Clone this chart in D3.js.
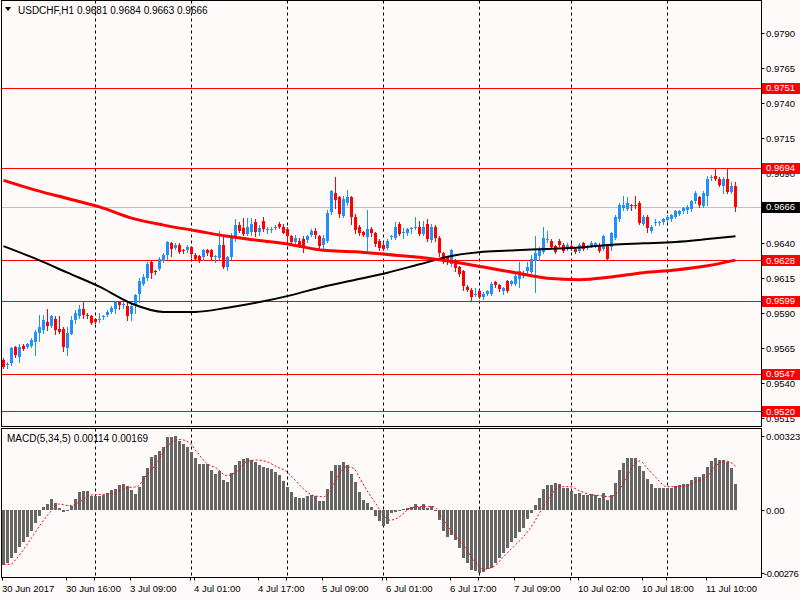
<!DOCTYPE html>
<html>
<head>
<meta charset="utf-8">
<script src="https://cdn.jsdelivr.net/npm/d3@7"></script>
<style>
  body { margin: 0; background: #fffafa; }
  text { font-family: "Liberation Sans", Arial, sans-serif; font-size: 9.5px; }
</style>
</head>
<body>
<svg id="chart" width="800" height="600"></svg>
<script>
// ---- data ----
const symbol = "USDCHF,H1";
const lastBar = [0.9681, 0.9684, 0.9663, 0.9666];
const macdHeader = "MACD(5,34,5) 0.00114 0.00169";

const opens = [
  .9557,.9553,.9554,.9566,.9559,.9567,.9566,.9567,.9570,.9576,.9578,.9584,.9581,.9586,.9579,.9579,
  .9565,.9575,.9585,.9588,.9593,.9589,.9588,.9586,.9585,.9587,.9589,.9591,.9593,.9598,.9596,.9595,
  .9589,.9596,.9604,.9611,.9615,.9627,.9620,.9622,.9628,.9632,.9640,.9637,.9639,.9635,.9635,.9637,
  .9632,.9631,.9630,.9635,.9635,.9630,.9630,.9639,.9623,.9630,.9645,.9653,.9651,.9647,.9648,.9655,
  .9648,.9656,.9649,.9649,.9651,.9654,.9652,.9650,.9645,.9641,.9642,.9643,.9642,.9646,.9649,.9645,
  .9639,.9642,.9662,.9676,.9673,.9660,.9669,.9673,.9659,.9652,.9648,.9644,.9650,.9647,.9642,.9639,
  .9637,.9644,.9644,.9654,.9647,.9647,.9650,.9651,.9652,.9647,.9654,.9643,.9652,.9644,.9633,.9630,
  .9625,.9628,.9623,.9620,.9609,.9607,.9603,.9606,.9602,.9604,.9604,.9612,.9610,.9606,.9613,.9611,
  .9611,.9614,.9619,.9620,.9620,.9627,.9631,.9634,.9642,.9642,.9638,.9642,.9639,.9636,.9638,.9636,
  .9635,.9640,.9637,.9638,.9638,.9639,.9636,.9638,.9637,.9644,.9657,.9665,.9665,.9667,.9667,.9669,
  .9654,.9659,.9649,.9654,.9654,.9655,.9657,.9657,.9659,.9661,.9663,.9664,.9664,.9670,.9673,.9667,
  .9674,.9686,.9688,.9686,.9681,.9686,.9677,.9681
];
const highs = [
  .9558,.9555,.9566,.9567,.9568,.9568,.9569,.9572,.9578,.9589,.9589,.9593,.9589,.9588,.9588,.9580,
  .9580,.9588,.9592,.9596,.9599,.9590,.9589,.9587,.9590,.9589,.9592,.9595,.9599,.9599,.9598,.9599,
  .9597,.9604,.9615,.9618,.9627,.9628,.9621,.9630,.9633,.9642,.9641,.9640,.9640,.9636,.9639,.9638,
  .9633,.9632,.9636,.9636,.9636,.9632,.9649,.9645,.9631,.9647,.9657,.9655,.9658,.9658,.9658,.9657,
  .9653,.9659,.9652,.9652,.9653,.9655,.9654,.9652,.9646,.9646,.9644,.9645,.9646,.9650,.9651,.9646,
  .9646,.9664,.9678,.9687,.9674,.9674,.9678,.9674,.9661,.9653,.9649,.9664,.9652,.9648,.9643,.9641,
  .9643,.9646,.9655,.9655,.9651,.9651,.9652,.9659,.9656,.9656,.9657,.9654,.9653,.9645,.9634,.9631,
  .9636,.9629,.9624,.9621,.9610,.9608,.9608,.9607,.9605,.9607,.9612,.9613,.9611,.9609,.9614,.9614,
  .9618,.9627,.9620,.9627,.9632,.9645,.9637,.9652,.9649,.9643,.9639,.9643,.9640,.9640,.9640,.9637,
  .9640,.9641,.9639,.9642,.9641,.9640,.9646,.9639,.9648,.9660,.9669,.9674,.9673,.9668,.9674,.9670,
  .9660,.9660,.9653,.9657,.9656,.9658,.9660,.9661,.9664,.9664,.9666,.9667,.9671,.9677,.9674,.9677,
  .9688,.9689,.9694,.9687,.9687,.9694,.9684,.9684
];
const lows = [
  .9551,.9551,.9553,.9559,.9555,.9564,.9565,.9566,.9560,.9570,.9576,.9578,.9580,.9575,.9576,.9563,
  .9560,.9575,.9583,.9587,.9587,.9587,.9582,.9583,.9584,.9586,.9588,.9590,.9590,.9593,.9594,.9585,
  .9585,.9590,.9598,.9610,.9614,.9615,.9618,.9621,.9627,.9629,.9631,.9636,.9633,.9633,.9634,.9630,
  .9628,.9627,.9628,.9632,.9629,.9627,.9629,.9622,.9621,.9629,.9642,.9648,.9646,.9646,.9646,.9645,
  .9646,.9649,.9647,.9648,.9650,.9651,.9647,.9642,.9639,.9640,.9637,.9634,.9641,.9645,.9644,.9636,
  .9635,.9641,.9661,.9665,.9659,.9659,.9667,.9654,.9647,.9646,.9645,.9635,.9645,.9638,.9635,.9635,
  .9636,.9643,.9643,.9646,.9644,.9646,.9647,.9650,.9646,.9646,.9642,.9641,.9642,.9631,.9626,.9625,
  .9624,.9620,.9617,.9607,.9606,.9599,.9602,.9601,.9600,.9603,.9603,.9609,.9606,.9604,.9605,.9610,
  .9610,.9609,.9616,.9618,.9619,.9605,.9628,.9633,.9641,.9637,.9633,.9638,.9634,.9635,.9635,.9633,
  .9634,.9635,.9636,.9637,.9637,.9634,.9635,.9628,.9635,.9643,.9656,.9664,.9664,.9664,.9665,.9654,
  .9653,.9648,.9648,.9653,.9653,.9654,.9656,.9656,.9658,.9660,.9662,.9662,.9663,.9669,.9666,.9666,
  .9667,.9685,.9685,.9681,.9676,.9676,.9676,.9663
];
const closes = [
  .9552,.9554,.9565,.9560,.9566,.9565,.9568,.9571,.9577,.9580,.9585,.9581,.9588,.9578,.9577,.9566,
  .9576,.9585,.9590,.9593,.9589,.9588,.9583,.9584,.9586,.9588,.9591,.9594,.9598,.9596,.9597,.9588,
  .9595,.9603,.9613,.9616,.9625,.9619,.9619,.9629,.9632,.9641,.9636,.9639,.9634,.9634,.9637,.9632,
  .9629,.9628,.9635,.9633,.9630,.9631,.9639,.9623,.9630,.9645,.9653,.9649,.9647,.9652,.9654,.9648,
  .9651,.9650,.9650,.9650,.9652,.9652,.9648,.9645,.9641,.9644,.9639,.9638,.9645,.9649,.9646,.9638,
  .9644,.9662,.9677,.9671,.9661,.9672,.9673,.9659,.9650,.9648,.9646,.9650,.9647,.9639,.9637,.9636,
  .9642,.9645,.9652,.9647,.9648,.9650,.9651,.9652,.9647,.9652,.9643,.9652,.9644,.9633,.9628,.9628,
  .9635,.9622,.9618,.9609,.9607,.9602,.9604,.9602,.9604,.9606,.9611,.9610,.9607,.9608,.9606,.9613,
  .9617,.9620,.9617,.9623,.9629,.9633,.9636,.9644,.9643,.9638,.9634,.9639,.9635,.9639,.9636,.9634,
  .9639,.9636,.9638,.9640,.9640,.9635,.9645,.9629,.9647,.9659,.9667,.9667,.9669,.9666,.9666,.9655,
  .9659,.9651,.9652,.9655,.9655,.9657,.9659,.9660,.9663,.9663,.9665,.9666,.9670,.9676,.9667,.9676,
  .9686,.9687,.9686,.9682,.9686,.9677,.9681,.9666
];

// moving averages, read every 8 bars: [bar, price]
const maRed = [
  [0,.9685],[8,.9678],[16,.9672],[24,.9666],[32,.9658],[40,.9653],[48,.9649],[56,.9645],
  [64,.9642],[72,.9639],[80,.9635],[88,.9634],[96,.9632],[104,.9630],[112,.9627],[120,.9623],
  [128,.9619],[136,.9615],[144,.9614],[152,.9616],[160,.9619],[168,.9621],[176,.9624],[183,.9628]
];
const maBlack = [
  [0,.9638],[8,.9629],[16,.9619],[24,.9609],[32,.9597],[40,.9591],[48,.9591],[56,.9594],
  [64,.9598],[72,.9603],[80,.9609],[88,.9614],[96,.9619],[104,.9625],[112,.9631],[120,.9634],
  [128,.9635],[136,.9636],[144,.9637],[152,.9639],[160,.9640],[168,.9641],[176,.9643],[183,.9645]
];

// MACD histogram, one value per bar
const macdHist = [
  -0.00240,-0.00233,-0.00208,-0.00189,-0.00160,-0.00138,-0.00116,-0.00092,-0.00058,-0.00025,
  0.00012,0.00026,0.00048,0.00029,0.00010,-0.00010,-0.00005,0.00017,0.00048,0.00080,
  0.00083,0.00083,0.00063,0.00061,0.00061,0.00065,0.00073,0.00087,0.00090,0.00109,
  0.00112,0.00105,0.00087,0.00070,0.00102,0.00150,0.00185,0.00233,0.00240,0.00258,
  0.00276,0.00320,0.00320,0.00323,0.00301,0.00287,0.00274,0.00255,0.00226,0.00201,
  0.00201,0.00201,0.00175,0.00157,0.00172,0.00131,0.00124,0.00160,0.00196,0.00214,
  0.00221,0.00226,0.00218,0.00208,0.00196,0.00189,0.00182,0.00178,0.00167,0.00153,
  0.00127,0.00099,0.00080,0.00055,0.00051,0.00054,0.00063,0.00065,0.00061,0.00039,
  0.00039,0.00092,0.00172,0.00196,0.00196,0.00208,0.00196,0.00157,0.00121,0.00080,
  0.00044,0.00029,0.00015,-0.00025,-0.00046,-0.00068,-0.00061,-0.00015,-0.00010,0.00002,
  0.00005,0.00010,0.00015,0.00026,0.00015,0.00026,0.00010,0.00017,-0.00002,-0.00044,
  -0.00092,-0.00116,-0.00109,-0.00131,-0.00164,-0.00208,-0.00233,-0.00262,-0.00266,-0.00276,
  -0.00269,-0.00258,-0.00255,-0.00233,-0.00211,-0.00186,-0.00164,-0.00141,-0.00121,-0.00097,
  -0.00077,-0.00039,-0.00012,0.00022,0.00051,0.00092,0.00109,0.00109,0.00116,0.00112,
  0.00097,0.00097,0.00083,0.00070,0.00076,0.00065,0.00065,0.00068,0.00065,0.00054,
  0.00076,0.00044,0.00065,0.00116,0.00175,0.00204,0.00226,0.00226,0.00226,0.00194,
  0.00170,0.00135,0.00113,0.00095,0.00095,0.00095,0.00095,0.00097,0.00105,0.00109,
  0.00113,0.00113,0.00131,0.00146,0.00146,0.00157,0.00189,0.00214,0.00226,0.00218,
  0.00218,0.00211,0.00182,0.00114
];
// signal line: [bar, value]
const macdSignal = [
  [0,-0.00237],[1.7,-0.00237],[3.3,-0.00211],[5.5,-0.00160],[7.5,-0.00109],[9.6,-0.00055],
  [11.6,-0.00010],[13.7,0.00026],[16.6,0.00019],[19.1,0.00036],[21.6,0.00065],[24.1,0.00068],
  [27.5,0.00073],[30.8,0.00097],[33.3,0.00102],[35.8,0.00153],[38.3,0.00204],[40.8,0.00276],
  [42.5,0.00300],[44.1,0.00308],[46.6,0.00291],[48.3,0.00255],[50.8,0.00204],[53.3,0.00182],
  [55.8,0.00150],[58.3,0.00167],[60.8,0.00211],[63.3,0.00218],[65.8,0.00211],[68.3,0.00189],
  [70.8,0.00167],[72.5,0.00138],[75,0.00092],[77.5,0.00063],[80,0.00058],[81.6,0.00080],
  [83.3,0.00138],[85.8,0.00189],[87.5,0.00182],[89.1,0.00138],[90.8,0.00087],[93.3,0.00022],
  [95,-0.00022],[96.6,-0.00044],[98.5,-0.00035],[99.5,-0.00022],[101.6,0.00007],[104.1,0.00015],
  [107.5,0.00015],[110,-0.00044],[112.5,-0.00102],[115,-0.00153],[117.5,-0.00218],[120,-0.00258],
  [122.5,-0.00247],[125,-0.00204],[127.5,-0.00160],[130,-0.00116],[132.5,-0.00058],[134.1,-0.00010],
  [136.6,0.00058],[139.1,0.00102],[141.6,0.00102],[144.1,0.00083],[146.6,0.00068],[149.1,0.00063],
  [151.6,0.00058],[153.3,0.00073],[155.8,0.00145],[157.5,0.00196],[159.1,0.00214],[160.8,0.00185],
  [163.3,0.00138],[165.8,0.00102],[168.3,0.00102],[170.8,0.00106],[173.3,0.00124],[175.8,0.00145],
  [178.3,0.00196],[180.4,0.00214],[182.5,0.00200],[183,0.00190]
];

// horizontal levels and axes
const levels = [0.9751, 0.9694, 0.9628, 0.9599, 0.9547, 0.9520];
const lastPrice = 0.9666;
const priceTicks = [0.9790, 0.9765, 0.9740, 0.9715, 0.9690, 0.9665, 0.9640, 0.9615, 0.9590, 0.9565, 0.9540, 0.9515];
const macdTicks = [0.00323, 0, -0.00276];
const timeBars = [0, 16, 32, 48, 64, 80, 96, 112, 128, 144, 160, 176];
const timeLabels = ["30 Jun 2017", "30 Jun 16:00", "3 Jul 09:00", "4 Jul 01:00", "4 Jul 17:00", "5 Jul 09:00",
  "6 Jul 01:00", "6 Jul 17:00", "7 Jul 09:00", "10 Jul 02:00", "10 Jul 18:00", "11 Jul 10:00"];
const gridBars = [23, 47, 71, 95, 119, 142, 166];

// ---- layout ----
const W = 800, H = 600;
const left = 1.5, right = 761.5;
const mainTop = 0.5, mainBottom = 426.5;
const subTop = 428.5, subBottom = 577.5;
const bull = "#1e90ff", bear = "#ff0000";

const svg = d3.select("#chart");
svg.append("rect").attr("width", W).attr("height", H).attr("fill", "#fffafa");

const x = d3.scaleLinear().domain([0, 183]).range([3.5, 735.5]);
const y = d3.scaleLinear().domain([0.9790, 0.9515]).range([33.3, 418.3]);
const ym = d3.scaleLinear().domain([0.00323, -0.00276]).range([436, 573.3]);
const py = (v) => Math.round(y(v)) + 0.5;

svg.append("clipPath").attr("id", "mainClip")
  .append("rect").attr("x", left).attr("y", mainTop).attr("width", right - left).attr("height", mainBottom - mainTop);
svg.append("clipPath").attr("id", "subClip")
  .append("rect").attr("x", left).attr("y", subTop).attr("width", right - left).attr("height", subBottom - subTop);

// vertical dashed grid through both panels
const grid = svg.append("g").attr("stroke", "#000").attr("stroke-dasharray", "3,3");
gridBars.forEach((b) => {
  grid.append("line").attr("x1", x(b)).attr("x2", x(b)).attr("y1", mainTop).attr("y2", mainBottom);
  grid.append("line").attr("x1", x(b)).attr("x2", x(b)).attr("y1", subTop).attr("y2", subBottom);
});

const main = svg.append("g").attr("clip-path", "url(#mainClip)");

// price levels
main.selectAll(".level").data(levels).join("line")
  .attr("x1", left).attr("x2", right)
  .attr("y1", (d) => py(d)).attr("y2", (d) => py(d))
  .attr("stroke", "#ff0000");
main.append("line")
  .attr("x1", left).attr("x2", right)
  .attr("y1", py(lastPrice)).attr("y2", py(lastPrice))
  .attr("stroke", "#c0c0c0");

// candles
const bars = d3.range(closes.length);
const candles = main.append("g");
candles.selectAll("line").data(bars).join("line")
  .attr("x1", (i) => x(i)).attr("x2", (i) => x(i))
  .attr("y1", (i) => Math.round(y(highs[i]))).attr("y2", (i) => Math.round(y(lows[i])) + 1)
  .attr("stroke", (i) => (closes[i] >= opens[i] ? bull : bear));
candles.selectAll("rect").data(bars).join("rect")
  .attr("x", (i) => x(i) - 1.5).attr("width", 3)
  .attr("y", (i) => Math.round(y(Math.max(opens[i], closes[i]))))
  .attr("height", (i) => Math.max(1, Math.round(Math.abs(y(opens[i]) - y(closes[i])))))
  .attr("fill", (i) => (closes[i] >= opens[i] ? bull : bear));

// moving averages
const maLine = d3.line().x((d) => x(d[0])).y((d) => y(d[1])).curve(d3.curveMonotoneX);
main.append("path").attr("d", maLine(maBlack)).attr("fill", "none").attr("stroke", "#000").attr("stroke-width", 2);
main.append("path").attr("d", maLine(maRed)).attr("fill", "none").attr("stroke", "#ff0000").attr("stroke-width", 3);

// MACD sub window
const sub = svg.append("g").attr("clip-path", "url(#subClip)");
sub.selectAll("rect").data(bars).join("rect")
  .attr("x", (i) => x(i) - 1.5).attr("width", 3)
  .attr("y", (i) => Math.round(Math.min(ym(0), ym(macdHist[i]))))
  .attr("height", (i) => Math.max(1, Math.round(Math.abs(ym(macdHist[i]) - ym(0)))))
  .attr("fill", "#666");
const sigLine = d3.line().x((d) => x(d[0])).y((d) => ym(d[1])).curve(d3.curveMonotoneX);
sub.append("path").attr("d", sigLine(macdSignal))
  .attr("fill", "none").attr("stroke", "#ff0000").attr("stroke-dasharray", "2,2");

// panel frames
const frame = svg.append("g").attr("fill", "none").attr("stroke", "#000");
frame.append("rect").attr("x", left).attr("y", mainTop).attr("width", right - left).attr("height", mainBottom - mainTop);
frame.append("rect").attr("x", left).attr("y", subTop).attr("width", right - left).attr("height", subBottom - subTop);

// right price scale
const scale = svg.append("g");
priceTicks.forEach((p) => {
  scale.append("line").attr("x1", right).attr("x2", right + 3).attr("y1", py(p)).attr("y2", py(p)).attr("stroke", "#000");
  scale.append("text").attr("x", 766).attr("y", y(p) + 3.5).text(p.toFixed(4));
});
function priceBox(v, color) {
  scale.append("rect").attr("x", 762).attr("y", Math.round(y(v)) - 5).attr("width", 38).attr("height", 11).attr("fill", color);
  scale.append("text").attr("x", 766).attr("y", y(v) + 3.5).attr("fill", "#fff").text(v.toFixed(4));
}
levels.forEach((v) => priceBox(v, "#ff0000"));
priceBox(lastPrice, "#000");

macdTicks.forEach((v) => {
  scale.append("line").attr("x1", right).attr("x2", right + 3)
    .attr("y1", Math.round(ym(v)) + 0.5).attr("y2", Math.round(ym(v)) + 0.5).attr("stroke", "#000");
  scale.append("text")
    .attr("x", v < 0 ? 764 : 766).attr("y", ym(v) + 3.5)
    .attr("letter-spacing", v < 0 ? -0.4 : 0)
    .text(v === 0 ? "0.00" : v.toFixed(5));
});

// time axis
const timeAxis = svg.append("g");
timeAxis.append("line").attr("x1", left).attr("x2", right).attr("y1", subBottom).attr("y2", subBottom).attr("stroke", "#000");
timeBars.concat(gridBars).forEach((b) => {
  timeAxis.append("line").attr("x1", x(b) - 1).attr("x2", x(b) - 1).attr("y1", subBottom).attr("y2", subBottom + 3).attr("stroke", "#000");
});
timeAxis.selectAll("text").data(timeBars).join("text")
  .attr("x", (b) => x(b) - 1.5).attr("y", 592)
  .text((b, i) => timeLabels[i]);

// headers
svg.append("path").attr("d", "M5,7L11,7L8,11Z").attr("fill", "#000");
svg.append("text").attr("x", 18).attr("y", 14).style("font-size", "10px")
  .text(symbol + " " + lastBar.map((v) => v.toFixed(4)).join(" "));
svg.append("text").attr("x", 7).attr("y", 442).style("font-size", "10px").text(macdHeader);
</script>
</body>
</html>
